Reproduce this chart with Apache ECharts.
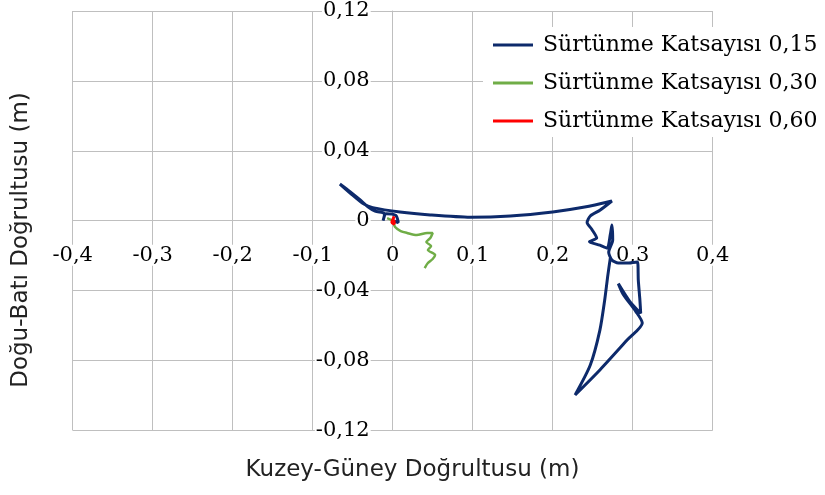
<!DOCTYPE html>
<html>
<head>
<meta charset="utf-8">
<script src="https://cdn.jsdelivr.net/npm/echarts@6/dist/echarts.min.js"></script>
<style>html,body{margin:0;padding:0;background:#fff;}#c{width:825px;height:495px;}</style>
</head>
<body>
<div id="c"></div>
<script>
const seriesNames = ['Sürtünme Katsayısı 0,15', 'Sürtünme Katsayısı 0,30', 'Sürtünme Katsayısı 0,60'];
const xTitle = 'Kuzey-Güney Doğrultusu (m)';
const yTitle = 'Doğu-Batı Doğrultusu (m)';
const xMin = -0.4, xMax = 0.4, xStep = 0.1;
const yMin = -0.12, yMax = 0.12, yStep = 0.04;

const blue015 = [
  [0.000, 0.000], [0.007, -0.001], [0.004, 0.003], [-0.008, 0.004], [-0.012, 0.000], [-0.010, 0.004],
  [-0.022, 0.0055], [-0.031, 0.008], [-0.041, 0.012], [-0.053, 0.0165], [-0.066, 0.021],
  [-0.051, 0.015], [-0.036, 0.0095], [-0.025, 0.0075], [0.009, 0.005], [0.047, 0.0033],
  [0.097, 0.002], [0.147, 0.0027], [0.200, 0.005], [0.240, 0.0078], [0.274, 0.0113],
  [0.259, 0.006], [0.247, 0.0027], [0.243, -0.001], [0.249, -0.005], [0.255, -0.0099],
  [0.246, -0.012], [0.259, -0.014], [0.268, -0.0156], [0.272, -0.008], [0.274, -0.0025],
  [0.275, -0.011], [0.270, -0.018], [0.274, -0.0225], [0.282, -0.0242], [0.294, -0.0242],
  [0.306, -0.0236], [0.307, -0.034], [0.309, -0.0454], [0.310, -0.053], [0.296, -0.046],
  [0.282, -0.036], [0.288, -0.042], [0.304, -0.052], [0.312, -0.0585], [0.293, -0.0683],
  [0.259, -0.0854], [0.228, -0.0997], [0.247, -0.0826], [0.259, -0.0626], [0.265, -0.0454],
  [0.269, -0.031], [0.272, -0.0214]
];
const green030 = [
  [-0.007, 0.0015], [0.000, -0.0002], [0.003, -0.0036], [0.010, -0.0059], [0.018, -0.007],
  [0.030, -0.0082], [0.043, -0.007], [0.050, -0.007], [0.047, -0.0099], [0.042, -0.0122],
  [0.048, -0.0145], [0.044, -0.0168], [0.053, -0.0196], [0.050, -0.0219], [0.044, -0.0242],
  [0.040, -0.0271]
];
const red060 = [
  [0.002, 0.0025], [-0.001, -0.001], [0.002, -0.002], [0.0015, 0.0005]
];

const colors = ['#0d2a6b', '#70ad47', '#ff0000'];
const serif = 'DejaVu Serif';
const sans = 'DejaVu Sans';

function fmt(v, d) {
  if (Math.abs(v) < 1e-9) return '0';
  return v.toFixed(d).replace('.', ',');
}

const gridLeft = 72.7, gridTop = 11, gridW = 640, gridH = 419.4;

const chart = echarts.init(document.getElementById('c'), null, {renderer: 'canvas'});
chart.setOption({
  animation: false,
  backgroundColor: '#fff',
  grid: {left: gridLeft, top: gridTop, width: gridW, height: gridH, containLabel: false},
  xAxis: {
    type: 'value', min: xMin, max: xMax, interval: xStep, position: 'bottom',
    offset: -gridH * (0 - yMin) / (yMax - yMin),
    axisLine: {show: true, onZero: false, lineStyle: {color: '#bfbfbf', width: 1}},
    axisTick: {show: false},
    splitLine: {show: true, lineStyle: {color: '#bfbfbf', width: 1}},
    axisLabel: {
      formatter: v => fmt(v, 1), margin: 24, color: '#000',
      fontFamily: serif, fontSize: 21, backgroundColor: '#fff', padding: [0, 1]
    }
  },
  yAxis: {
    type: 'value', min: yMin, max: yMax, interval: yStep, position: 'left',
    offset: -gridW * (0 - xMin) / (xMax - xMin),
    axisLine: {show: true, onZero: false, lineStyle: {color: '#bfbfbf', width: 1}},
    axisTick: {show: false},
    splitLine: {show: true, lineStyle: {color: '#bfbfbf', width: 1}},
    axisLabel: {
      formatter: v => fmt(v, 2), margin: 22, color: '#000',
      fontFamily: serif, fontSize: 21, backgroundColor: '#fff', padding: [0, 1]
    }
  },
  legend: {
    orient: 'vertical', left: 483, top: 27,
    padding: [6, 10, 4, 10], backgroundColor: '#fff',
    itemWidth: 40, itemHeight: 3, itemGap: 14, icon: 'rect',
    textStyle: {fontFamily: serif, fontSize: 22, color: '#000', lineHeight: 24, padding: [0, 0, 0, 5]},
    data: seriesNames
  },
  series: [
    {name: seriesNames[0], type: 'line', data: blue015, showSymbol: false, symbol: 'none', smooth: 0.25,
     lineStyle: {color: colors[0], width: 3}, itemStyle: {color: colors[0]}, z: 3},
    {name: seriesNames[1], type: 'line', data: green030, showSymbol: false, symbol: 'none', smooth: 0.25,
     lineStyle: {color: colors[1], width: 2.5}, itemStyle: {color: colors[1]}, z: 4},
    {name: seriesNames[2], type: 'line', data: red060, showSymbol: false, symbol: 'none', smooth: 0.25,
     lineStyle: {color: colors[2], width: 3}, itemStyle: {color: colors[2]}, z: 5}
  ],
  graphic: [
    {type: 'text', left: 'center', top: 459, style: {text: xTitle, font: '23px "' + sans + '"', fill: '#222'}},
    {type: 'text', x: 10, y: 240, rotation: Math.PI / 2,
     style: {text: yTitle, font: '23px "' + sans + '"', fill: '#222', align: 'center', verticalAlign: 'top'}}
  ]
});
</script>
</body>
</html>
